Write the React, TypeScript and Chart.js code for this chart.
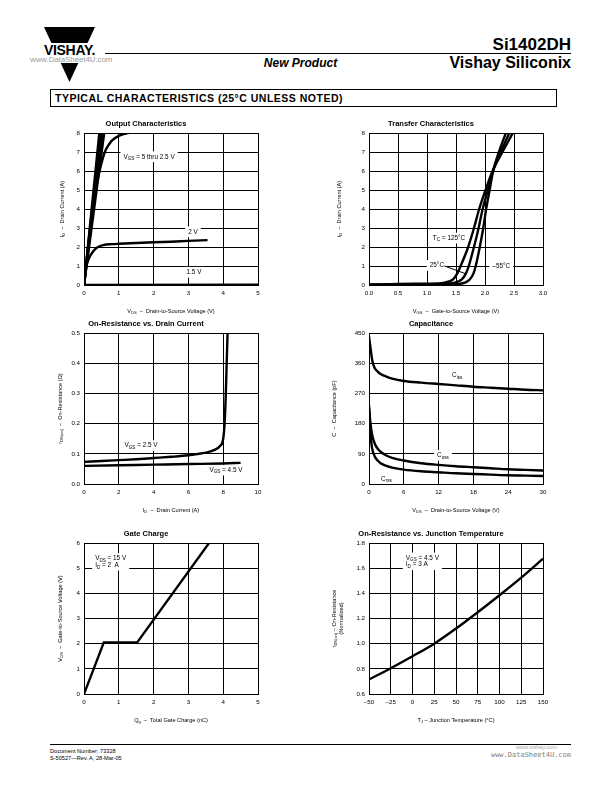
import React, { useEffect, useRef } from "react";
import { Chart, registerables } from "chart.js";

Chart.register(...registerables);

type Pt = [number, number];
type Seg = { t: string; sub?: boolean };

// ---------------- DATA ----------------
// Output Characteristics (VDS [V] vs ID [A])
const OUT_X_TICKS = ["0", "1", "2", "3", "4", "5"];
const OUT_Y_TICKS = ["0", "1", "2", "3", "4", "5", "6", "7", "8"];
const OUT_VGS_5V: Pt[] = [[0, 0], [0.44, 8]];
const OUT_VGS_4V5: Pt[] = [[0, 0], [0.47, 8]];
const OUT_VGS_4V: Pt[] = [[0, 0], [0.5, 8]];
const OUT_VGS_3V5: Pt[] = [[0, 0], [0.54, 8]];
const OUT_VGS_3V: Pt[] = [[0, 0], [0.58, 8]];
const OUT_VGS_2V5: Pt[] = [[0, 0], [0.1, 1.7], [0.2, 3.3], [0.3, 4.6], [0.4, 5.6], [0.5, 6.4], [0.6, 7.0], [0.7, 7.35], [0.8, 7.6], [1.0, 7.85], [1.2, 7.97], [1.4, 8.05]];
const OUT_VGS_2V: Pt[] = [[0, 0], [0.05, 0.8], [0.1, 1.2], [0.2, 1.6], [0.3, 1.85], [0.4, 2.0], [0.55, 2.1], [0.8, 2.15], [1, 2.17], [1.5, 2.21], [2, 2.25], [2.5, 2.28], [3, 2.32], [3.55, 2.36]];
const OUT_VGS_1V5: Pt[] = [[0, 0], [5, 0.02]];

// Transfer Characteristics (VGS [V] vs ID [A])
const TR_X_TICKS = ["0.0", "0.5", "1.0", "1.5", "2.0", "2.5", "3.0"];
const TR_Y_TICKS = ["0", "1", "2", "3", "4", "5", "6", "7", "8"];
const TR_125C: Pt[] = [[0, 0.02], [0.5, 0.06], [1.0, 0.07], [1.2, 0.08], [1.3, 0.12], [1.45, 0.3], [1.52, 0.6], [1.58, 1], [1.71, 2], [1.81, 3], [1.9, 4], [2.01, 5], [2.13, 6], [2.3, 7], [2.48, 8], [2.55, 8.4]];
const TR_25C: Pt[] = [[0, 0.01], [1.0, 0.03], [1.35, 0.06], [1.48, 0.12], [1.6, 0.3], [1.67, 0.6], [1.72, 1], [1.81, 2], [1.89, 3], [1.96, 4], [2.05, 5], [2.14, 6], [2.27, 7], [2.42, 8], [2.48, 8.4]];
const TR_M55C: Pt[] = [[0, 0.01], [1.4, 0.02], [1.55, 0.05], [1.65, 0.12], [1.74, 0.3], [1.8, 0.6], [1.84, 1], [1.91, 2], [1.97, 3], [2.02, 4], [2.08, 5], [2.14, 6], [2.24, 7], [2.36, 8], [2.42, 8.5]];

// On-Resistance vs. Drain Current (ID [A] vs rDS(on) [ohm])
const RON_X_TICKS = ["0", "2", "4", "6", "8", "10"];
const RON_Y_TICKS = ["0.0", "0.1", "0.2", "0.3", "0.4", "0.5"];
const RON_VGS_2V5: Pt[] = [[0, 0.073], [1, 0.076], [2, 0.079], [3, 0.082], [4, 0.086], [5, 0.09], [6, 0.095], [6.5, 0.099], [7, 0.104], [7.5, 0.113], [7.8, 0.125], [8.0, 0.15], [8.08, 0.2], [8.15, 0.3], [8.2, 0.4], [8.25, 0.5]];
const RON_VGS_4V5: Pt[] = [[0, 0.06], [2, 0.062], [4, 0.064], [6, 0.066], [8, 0.068], [9, 0.07]];

// Capacitance (VDS [V] vs C [pF])
const CAP_X_TICKS = ["0", "6", "12", "18", "24", "30"];
const CAP_Y_TICKS = ["0", "90", "180", "270", "360", "450"];
const CAP_CISS: Pt[] = [[0, 440], [0.3, 400], [0.6, 365], [1, 345], [1.5, 335], [2, 328], [3, 320], [4, 314], [6, 307], [9, 302], [12, 298], [15, 294], [18, 290], [21, 287], [24, 284], [27, 281], [30, 279]];
const CAP_COSS: Pt[] = [[0, 235], [0.2, 190], [0.5, 150], [1, 120], [1.5, 105], [2, 96], [3, 85], [4, 78], [6, 70], [9, 62], [12, 57], [15, 53], [18, 50], [21, 47], [24, 44], [27, 42], [30, 40]];
const CAP_CRSS: Pt[] = [[0, 225], [0.2, 160], [0.5, 110], [1, 82], [1.5, 70], [2, 62], [3, 54], [4, 49], [6, 43], [9, 38], [12, 35], [15, 32], [18, 30], [21, 28], [24, 26], [27, 25], [30, 24]];

// Gate Charge (Qg [nC] vs VGS [V])
const GC_X_TICKS = ["0", "1", "2", "3", "4", "5"];
const GC_Y_TICKS = ["0", "1", "2", "3", "4", "5", "6"];
const GC_VGS: Pt[] = [[0, 0], [0.57, 2.05], [1.53, 2.05], [3.62, 6.05]];

// On-Resistance vs. Junction Temperature (TJ [°C] vs normalized rDS(on))
const RT_X_TICKS = ["–50", "–25", "0", "25", "50", "75", "100", "125", "150"];
const RT_Y_TICKS = ["0.6", "0.8", "1.0", "1.2", "1.4", "1.6", "1.8"];
const RT_NORM: Pt[] = [[-50, 0.715], [-25, 0.805], [0, 0.9], [25, 1.0], [50, 1.12], [75, 1.25], [100, 1.385], [125, 1.525], [150, 1.675]];

// ---------------- STYLE / LAYOUT ----------------
const FAMILY = '"Liberation Sans", Arial, sans-serif';
const TITLE_FS = 7.5;
const TICK_FS = 6.2;
const AXIS_FS = 5.6;
const LABEL_FS = 6.4;
const LINE_W = 2.4;
const Y_AXIS_W = 50;
const TITLE_H = 20;
const X_AXIS_H = 34;
const RIGHT_PAD = 14;
const PLOT_W = 174;
const COL_LEFT = [84, 369];
const ROWS = [
  { top: 133, h: 152 },
  { top: 333, h: 151 },
  { top: 543, h: 151 },
];

type Label = { x: number; y: number; lines: Seg[][]; align?: "left" | "center"; box?: boolean };
type Series = { data: Pt[]; straight?: boolean };
type Spec = {
  title: string;
  xTicks: string[];
  yTicks: string[];
  series: Series[];
  xTitle: Seg[];
  yTitle: Seg[][];
  yTitleOff: number[];
  labels: Label[];
  leaders?: [Pt, Pt][];
};

const fontStr = (size: number, weight = "normal") => `${weight} ${size}px ${FAMILY}`;

function richWidth(ctx: CanvasRenderingContext2D, segs: Seg[], fs: number) {
  let w = 0;
  for (const s of segs) {
    ctx.font = fontStr(s.sub ? fs * 0.72 : fs);
    w += ctx.measureText(s.t).width;
  }
  return w;
}

function drawRich(ctx: CanvasRenderingContext2D, segs: Seg[], x: number, y: number, fs: number, align: "left" | "center") {
  const w = richWidth(ctx, segs, fs);
  let cx = align === "center" ? x - w / 2 : x;
  ctx.textAlign = "left";
  ctx.textBaseline = "middle";
  for (const s of segs) {
    ctx.font = fontStr(s.sub ? fs * 0.72 : fs);
    ctx.fillText(s.t, cx, s.sub ? y + fs * 0.32 : y);
    cx += ctx.measureText(s.t).width;
  }
}

function decoPlugin(spec: Spec) {
  return {
    id: "deco",
    beforeDatasetsDraw(chart: any) {
      const { ctx, scales } = chart;
      const xs = scales.x, ys = scales.y;
      ctx.save();
      for (const l of spec.labels) {
        const px = xs.getPixelForValue(l.x);
        const py = ys.getPixelForValue(l.y);
        const lh = LABEL_FS * 1.05;
        const w = Math.max(...l.lines.map((s) => richWidth(ctx, s, LABEL_FS)));
        const h = lh * l.lines.length;
        const left = l.align === "left" ? px : px - w / 2;
        const top = py - h / 2;
        if (l.box !== false) {
          ctx.fillStyle = "#fff";
          ctx.fillRect(left - 3, top - 2, w + 6, h + 4);
        }
        ctx.fillStyle = "#000";
        l.lines.forEach((s, i) => drawRich(ctx, s, left, top + lh * (i + 0.5), LABEL_FS, "left"));
      }
      for (const [a, b] of spec.leaders || []) {
        ctx.strokeStyle = "#000";
        ctx.lineWidth = 1;
        ctx.beginPath();
        ctx.moveTo(xs.getPixelForValue(a[0]), ys.getPixelForValue(a[1]));
        ctx.lineTo(xs.getPixelForValue(b[0]), ys.getPixelForValue(b[1]));
        ctx.stroke();
      }
      ctx.restore();
    },
    afterDraw(chart: any) {
      const { ctx, chartArea: a } = chart;
      ctx.save();
      ctx.fillStyle = "#000";
      drawRich(ctx, spec.xTitle, (a.left + a.right) / 2, a.bottom + 26, AXIS_FS, "center");
      spec.yTitle.forEach((s, i) => {
        ctx.save();
        ctx.translate(a.left - spec.yTitleOff[i], (a.top + a.bottom) / 2);
        ctx.rotate(-Math.PI / 2);
        drawRich(ctx, s, 0, 0, AXIS_FS, "center");
        ctx.restore();
      });
      ctx.restore();
    },
  };
}

const num = (t: string) => parseFloat(t.replace("–", "-"));

function axis(ticks: string[], horizontal: boolean) {
  const vals = ticks.map(num);
  return {
    type: "linear",
    min: vals[0],
    max: vals[vals.length - 1],
    afterBuildTicks: (s: any) => {
      s.ticks = vals.map((v) => ({ value: v }));
    },
    afterFit: (s: any) => {
      if (horizontal) s.height = X_AXIS_H;
      else s.width = Y_AXIS_W;
    },
    grid: { color: "#000", lineWidth: 1, drawTicks: false },
    border: { color: "#000", width: 1 },
    ticks: {
      color: "#000",
      font: { family: FAMILY, size: TICK_FS },
      padding: horizontal ? 5 : 4,
      autoSkip: false,
      maxRotation: 0,
      minRotation: 0,
      callback: (_v: any, i: number) => ticks[i],
    },
  };
}

function buildConfig(spec: Spec): any {
  return {
    type: "line",
    data: {
      datasets: spec.series.map((s) => ({
        data: s.data.map(([x, y]) => ({ x, y })),
        borderColor: "#000",
        borderWidth: LINE_W,
        pointRadius: 0,
        fill: false,
        cubicInterpolationMode: s.straight ? "default" : "monotone",
        tension: 0,
      })),
    },
    options: {
      responsive: false,
      animation: false,
      devicePixelRatio: 1,
      events: [],
      layout: { padding: { top: 0, left: 0, right: RIGHT_PAD, bottom: 0 } },
      plugins: {
        legend: { display: false },
        tooltip: { enabled: false },
        title: {
          display: true,
          text: spec.title,
          color: "#000",
          font: { family: FAMILY, size: TITLE_FS, weight: "bold", lineHeight: 1.2 },
          padding: { top: 6.5, bottom: 4.5 },
        },
      },
      scales: { x: axis(spec.xTicks, true), y: axis(spec.yTicks, false) },
    },
    plugins: [decoPlugin(spec)],
  };
}

const S = (t: string): Seg => ({ t });
const B = (t: string): Seg => ({ t, sub: true });

const SPECS: { spec: Spec; col: number; row: number }[] = [
  {
    col: 0,
    row: 0,
    spec: {
      title: "Output Characteristics",
      xTicks: OUT_X_TICKS,
      yTicks: OUT_Y_TICKS,
      series: [
        { data: OUT_VGS_5V, straight: true },
        { data: OUT_VGS_4V5, straight: true },
        { data: OUT_VGS_4V, straight: true },
        { data: OUT_VGS_3V5, straight: true },
        { data: OUT_VGS_3V, straight: true },
        { data: OUT_VGS_2V5 },
        { data: OUT_VGS_2V },
        { data: OUT_VGS_1V5, straight: true },
      ],
      xTitle: [S("V"), B("DS"), S("  –  Drain-to-Source Voltage (V)")],
      yTitle: [[S("I"), B("D"), S("  –  Drain Current (A)")]],
      yTitleOff: [22],
      labels: [
        { x: 1.87, y: 6.75, lines: [[S("V"), B("GS"), S(" = 5 thru 2.5 V")]] },
        { x: 3.13, y: 2.8, lines: [[S("2 V")]] },
        { x: 3.16, y: 0.67, lines: [[S("1.5 V")]] },
      ],
    },
  },
  {
    col: 1,
    row: 0,
    spec: {
      title: "Transfer Characteristics",
      xTicks: TR_X_TICKS,
      yTicks: TR_Y_TICKS,
      series: [{ data: TR_125C }, { data: TR_25C }, { data: TR_M55C }],
      xTitle: [S("V"), B("GS"), S("  –  Gate-to-Source Voltage (V)")],
      yTitle: [[S("I"), B("D"), S("  –  Drain Current (A)")]],
      yTitleOff: [30],
      labels: [
        { x: 1.38, y: 2.47, lines: [[S("T"), B("C"), S(" = 125°C")]] },
        { x: 1.17, y: 1.03, lines: [[S("25°C")]] },
        { x: 2.28, y: 0.97, lines: [[S("–55°C")]] },
      ],
      leaders: [[[1.3, 1.0], [1.66, 0.6]]],
    },
  },
  {
    col: 0,
    row: 1,
    spec: {
      title: "On-Resistance vs. Drain Current",
      xTicks: RON_X_TICKS,
      yTicks: RON_Y_TICKS,
      series: [{ data: RON_VGS_2V5 }, { data: RON_VGS_4V5 }],
      xTitle: [S("I"), B("D"), S("  –  Drain Current (A)")],
      yTitle: [[S("r"), B("DS(on)"), S("  –  On-Resistance (Ω)")]],
      yTitleOff: [24],
      labels: [
        { x: 3.28, y: 0.127, lines: [[S("V"), B("GS"), S(" = 2.5 V")]] },
        { x: 8.16, y: 0.046, lines: [[S("V"), B("GS"), S(" = 4.5 V")]] },
      ],
    },
  },
  {
    col: 1,
    row: 1,
    spec: {
      title: "Capacitance",
      xTicks: CAP_X_TICKS,
      yTicks: CAP_Y_TICKS,
      series: [{ data: CAP_CISS }, { data: CAP_COSS }, { data: CAP_CRSS }],
      xTitle: [S("V"), B("DS"), S("  –  Drain-to-Source Voltage (V)")],
      yTitle: [[S("C  –  Capacitance (pF)")]],
      yTitleOff: [35],
      labels: [
        { x: 15.2, y: 324, lines: [[S("C"), B("iss")]] },
        { x: 12.75, y: 85.5, lines: [[S("C"), B("oss")]] },
        { x: 3.0, y: 15, lines: [[S("C"), B("rss")]], box: false },
      ],
    },
  },
  {
    col: 0,
    row: 2,
    spec: {
      title: "Gate Charge",
      xTicks: GC_X_TICKS,
      yTicks: GC_Y_TICKS,
      series: [{ data: GC_VGS, straight: true }],
      xTitle: [S("Q"), B("g"), S("  –  Total Gate Charge (nC)")],
      yTitle: [[S("V"), B("GS"), S("  –  Gate-to-Source Voltage (V)")]],
      yTitleOff: [24],
      labels: [
        {
          x: 0.32,
          y: 5.25,
          align: "left",
          lines: [
            [S("V"), B("DS"), S(" = 15 V")],
            [S("I"), B("D"), S(" = 2  A")],
          ],
        },
      ],
    },
  },
  {
    col: 1,
    row: 2,
    spec: {
      title: "On-Resistance vs. Junction Temperature",
      xTicks: RT_X_TICKS,
      yTicks: RT_Y_TICKS,
      series: [{ data: RT_NORM }],
      xTitle: [S("T"), B("J"), S(" – Junction Temperature (°C)")],
      yTitle: [[S("r"), B("DS(on)"), S(" – On-Resistance")], [S("(Normalized)")]],
      yTitleOff: [35, 28],
      labels: [
        {
          x: -7.7,
          y: 1.655,
          align: "left",
          lines: [
            [S("V"), B("GS"), S(" = 4.5 V")],
            [S("I"), B("D"), S(" = 3 A")],
          ],
        },
      ],
    },
  },
];

function ChartBox({ spec, left, top, plotH }: { spec: Spec; left: number; top: number; plotH: number }) {
  const ref = useRef<HTMLCanvasElement>(null);
  const w = Y_AXIS_W + PLOT_W + RIGHT_PAD;
  const h = TITLE_H + plotH + X_AXIS_H;
  useEffect(() => {
    const chart = new Chart(ref.current as HTMLCanvasElement, buildConfig(spec));
    return () => chart.destroy();
  }, [spec]);
  return (
    <canvas
      ref={ref}
      width={w}
      height={h}
      style={{ position: "absolute", left: left - Y_AXIS_W, top: top - TITLE_H, width: w, height: h }}
    />
  );
}

const txt = (st: React.CSSProperties): React.CSSProperties => ({
  position: "absolute",
  whiteSpace: "nowrap",
  lineHeight: 1,
  margin: 0,
  color: "#000",
  fontFamily: FAMILY,
  ...st,
});

export default function App() {
  return (
    <div style={{ position: "absolute", left: 0, top: 0, width: 612, height: 792, background: "#fff", overflow: "hidden" }}>
      <svg style={{ position: "absolute", left: 0, top: 0 }} width={130} height={90}>
        <polygon points="44,27 95,27 69.5,82" fill="#000" />
        <rect x={38} y={43} width={64} height={14} fill="#fff" />
        <text x={69.5} y={54.5} textAnchor="middle" fontFamily={FAMILY} fontWeight="bold" fontSize={14} letterSpacing={-0.3}>
          VISHAY.
        </text>
      </svg>
      <div style={txt({ left: 30, top: 55.5, fontSize: 7.8, color: "#9a9a9a", background: "#fff" })}>www.DataSheet4U.com</div>
      <div style={{ position: "absolute", left: 105, top: 53, width: 466, height: 1, background: "#000" }} />
      <div style={txt({ right: 41, top: 35.7, fontSize: 17, fontWeight: "bold" })}>Si1402DH</div>
      <div style={txt({ left: 200, width: 201, textAlign: "center", top: 57.1, fontSize: 12, fontWeight: "bold", fontStyle: "italic" })}>
        New Product
      </div>
      <div style={txt({ right: 41, top: 55.2, fontSize: 16, fontWeight: "bold" })}>Vishay Siliconix</div>

      <div
        style={{
          position: "absolute",
          left: 50,
          top: 89,
          width: 507,
          height: 18,
          border: "1px solid #000",
          boxSizing: "border-box",
        }}
      >
        <div style={txt({ left: 4, top: 3.2, fontSize: 10.5, fontWeight: "bold", letterSpacing: 0.5 })}>
          TYPICAL CHARACTERISTICS (25°C UNLESS NOTED)
        </div>
      </div>

      {SPECS.map((c, i) => (
        <ChartBox key={i} spec={c.spec} left={COL_LEFT[c.col]} top={ROWS[c.row].top} plotH={ROWS[c.row].h} />
      ))}

      <div style={{ position: "absolute", left: 50, top: 744, width: 521, height: 1, background: "#000" }} />
      <div style={txt({ left: 50, top: 748.8, fontSize: 5.6 })}>Document Number: 73328</div>
      <div style={txt({ left: 50, top: 755.8, fontSize: 5.6 })}>S-50527—Rev. A, 28-Mar-05</div>
      <div style={txt({ right: 55, top: 745, fontSize: 5.6, color: "#aaa" })}>www.vishay.com</div>
      <div style={txt({ right: 41, top: 752, fontSize: 7, color: "#808080", fontFamily: '"DejaVu Sans Mono", monospace' })}>
        www.DataSheet4U.com
      </div>
    </div>
  );
}
